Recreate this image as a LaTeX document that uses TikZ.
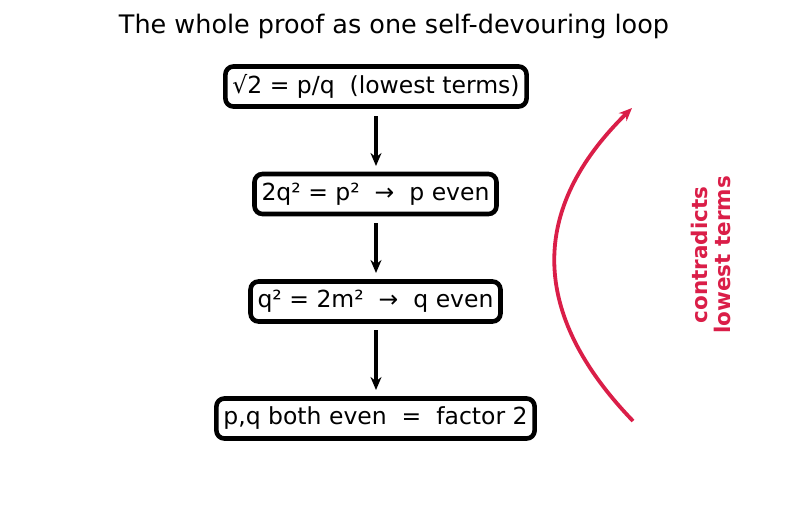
\documentclass[tikz,border=0pt]{standalone}
\usepackage{fontspec}
\setmainfont{DejaVu Sans}
\usetikzlibrary{arrows.meta}
\definecolor{crim}{RGB}{218,30,72}
\begin{document}
\begin{tikzpicture}[x=1pt,y=-1pt,
  stepbox/.style={draw=black,line width=4.6pt,rounded corners=8pt,fill=white,inner xsep=7pt,inner ysep=0pt,minimum height=40pt,font=\fontsize{23.5}{28}\selectfont},
  flow/.style={line width=3.6pt,-{Stealth[length=13pt,width=11pt]}}]
\useasboundingbox (0,0) rectangle (787,512);
\node[font=\fontsize{25.5}{30}\selectfont] (title) at (394,26) {The whole proof as one self-devouring loop};
\node[stepbox] (a) at (376,86.5) {√2 = p/q\ \ (lowest terms)};
\node[stepbox] (b) at (375.5,194) {2q² = p²\ \ →\ \ p even};
\node[stepbox] (c) at (375.5,301.5) {q² = 2m²\ \ →\ \ q even};
\node[stepbox] (d) at (375.5,418.5) {p,q both even\ \ =\ \ factor 2};
\coordinate (a1) at (376,116);
\coordinate (b0) at (376,166);
\coordinate (b1) at (376,223);
\coordinate (c0) at (376,273);
\coordinate (c1) at (376,330);
\coordinate (d0) at (376,390);
\draw[flow] (a1) -- (b0);
\draw[flow] (b1) -- (c0);
\draw[flow] (c1) -- (d0);
\coordinate (s) at (633,421);
\coordinate (e) at (632,108);
\draw[crim,line width=3.8pt,-{Stealth[length=13pt,width=11pt]}] (s) .. controls (529.3,313.3) and (529,209) .. (e);
\node[crim,rotate=90,font=\bfseries\fontsize{21.5}{23}\selectfont,align=center] (lbl) at (711,255) {contradicts\\lowest terms};
\end{tikzpicture}
\end{document}
